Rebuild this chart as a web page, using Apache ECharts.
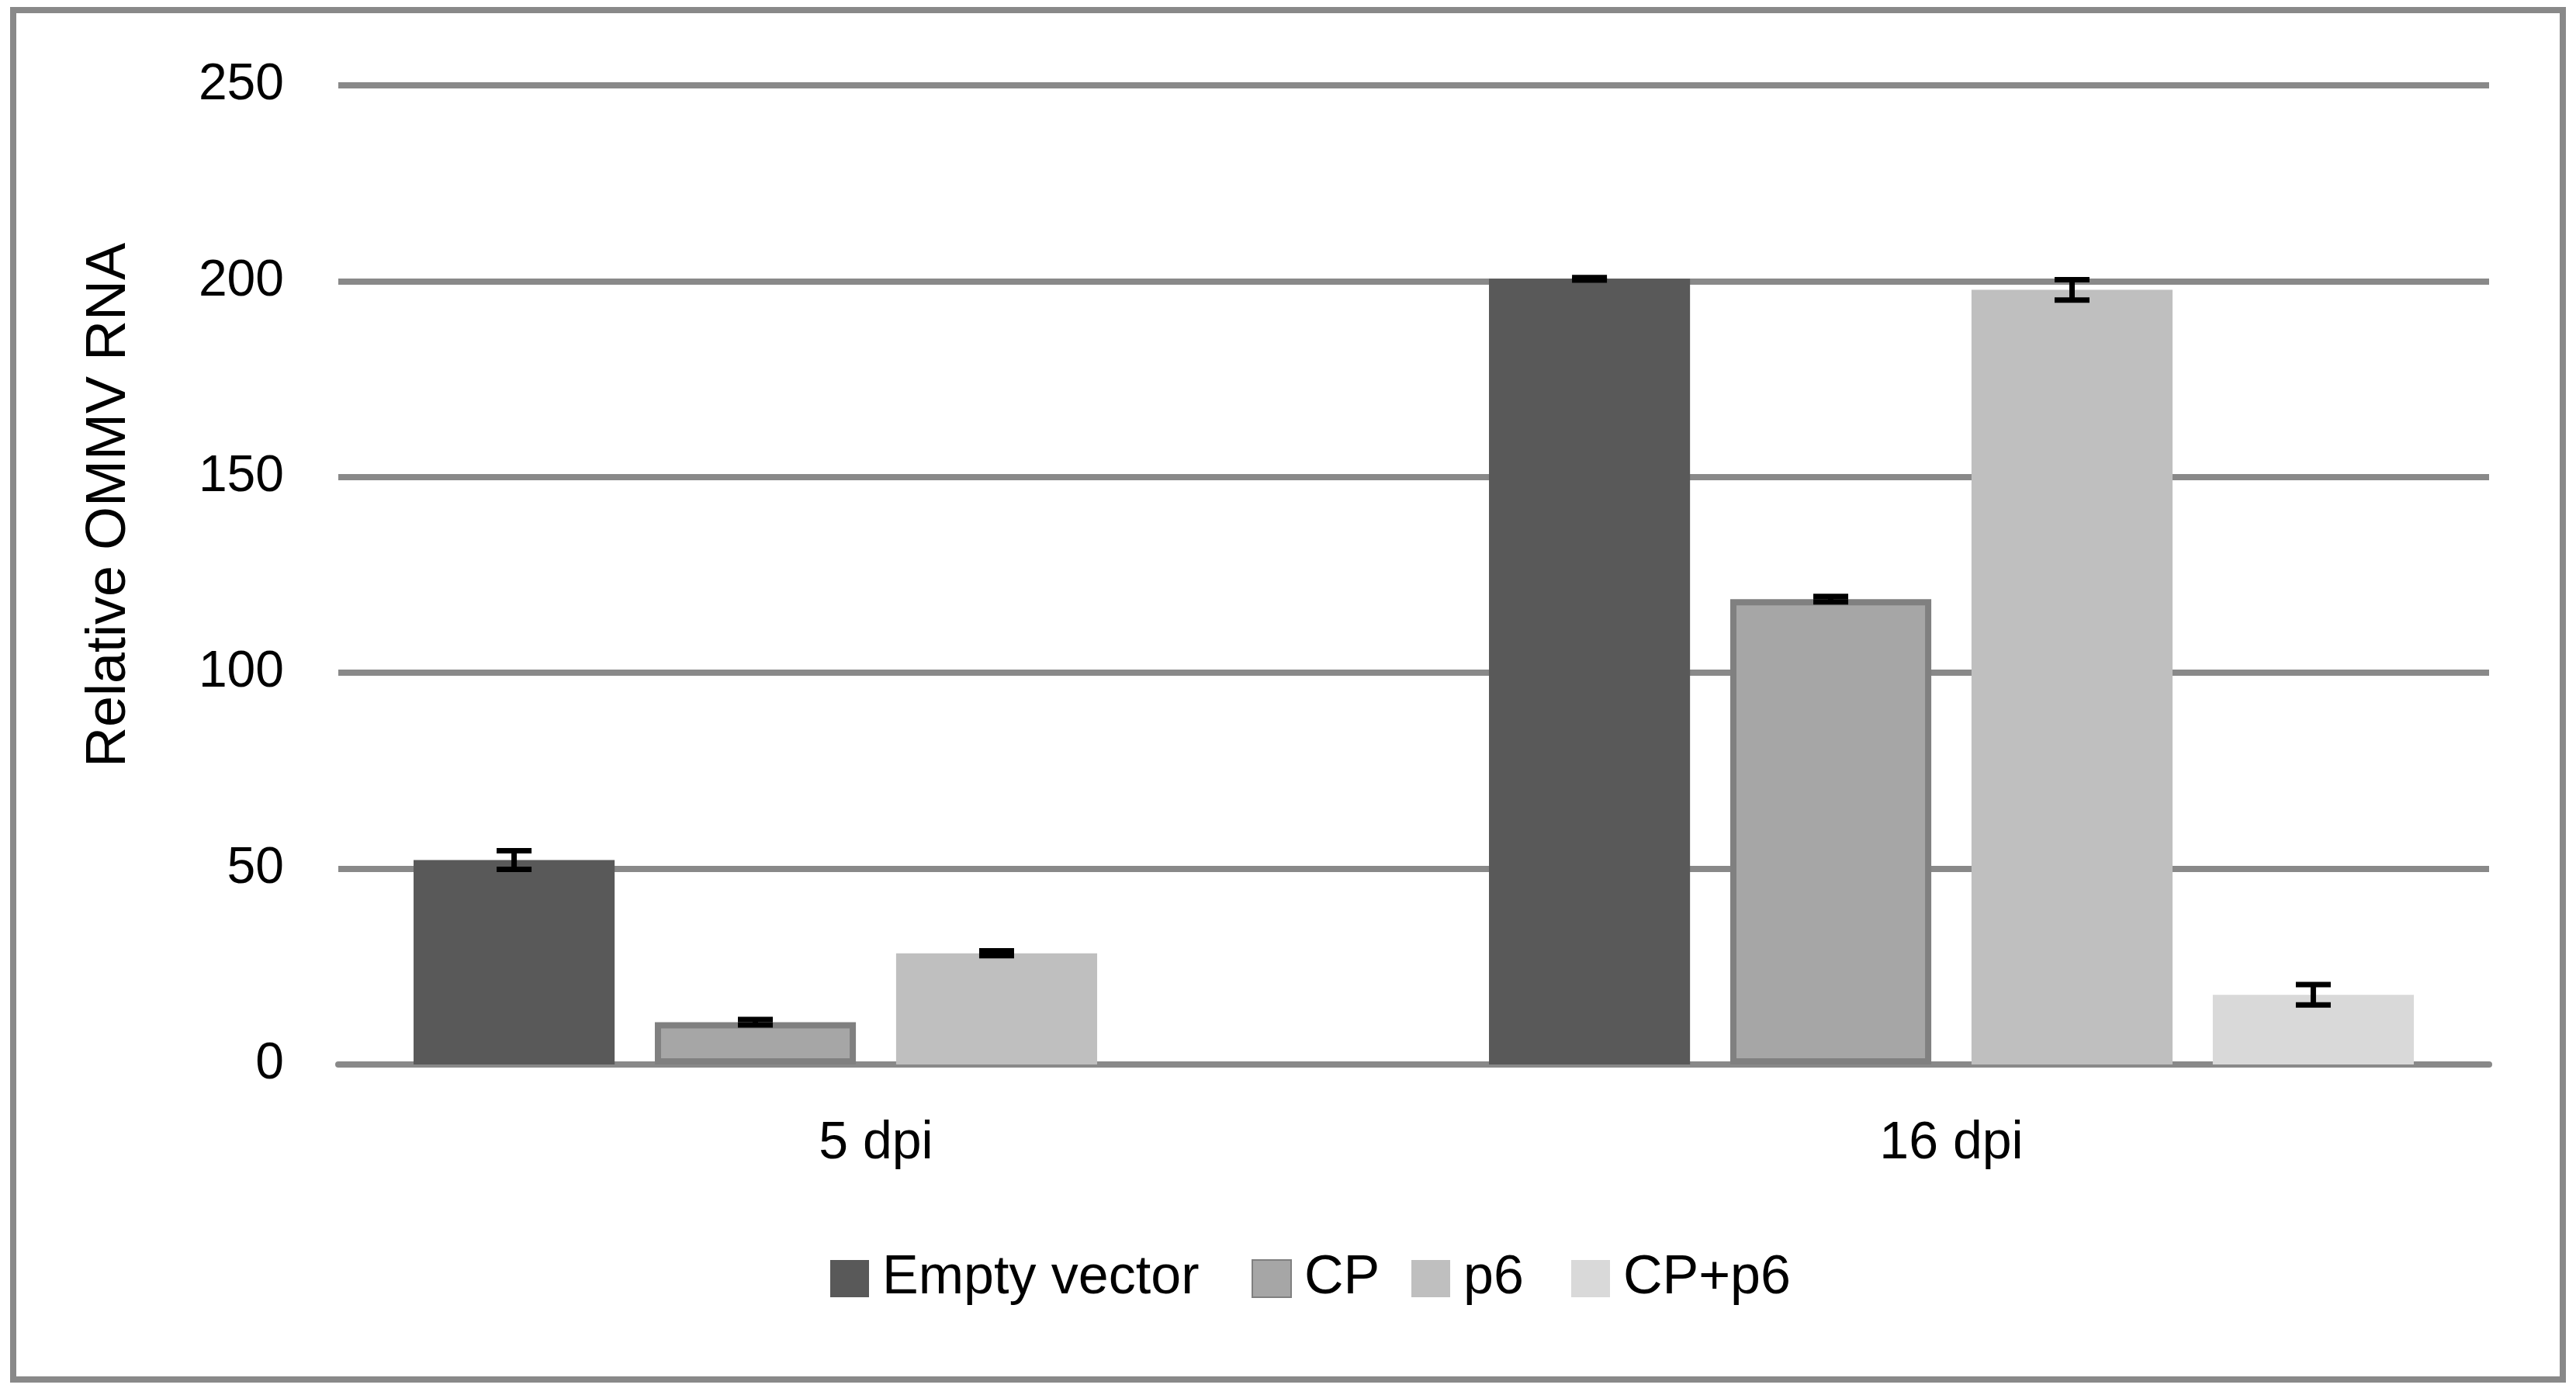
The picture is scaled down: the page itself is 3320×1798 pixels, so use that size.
<!DOCTYPE html>
<html>
<head>
<meta charset="utf-8">
<script src="https://cdn.jsdelivr.net/npm/echarts@6/dist/echarts.min.js"></script>
<style>
html,body{margin:0;padding:0;background:#fff;}
#chart{width:3320px;height:1798px;}
</style>
</head>
<body>
<div id="chart"></div>
<script>
// ---- data ----
const categories = ['5 dpi', '16 dpi'];
const seriesNames = ['Empty vector', 'CP', 'p6', 'CP+p6'];
const emptyVector = [52.2, 200.6];
const cp = [10.8, 118.8];
const p6 = [28.4, 197.8];
const cpP6 = [null, 17.8];
const emptyVectorErr = [2.4, 0.3];
const cpErr = [0.7, 0.7];
const p6Err = [0.6, 2.6];
const cpP6Err = [null, 2.6];
const yTicks = [0, 50, 100, 150, 200, 250];

const values = [emptyVector, cp, p6, cpP6];
const errors = [emptyVectorErr, cpErr, p6Err, cpP6Err];
const colors = ['#595959', '#A6A6A6', '#BFBFBF', '#D9D9D9'];
const legendLefts = [1065, 1608, 1814, 2020];

const FONT = 'Liberation Sans';
const CAT_GAP = 0.14, BAR_GAP = 0.2, NBARS = 4;

const barSeries = seriesNames.map((name, i) => ({
  name: name,
  type: 'bar',
  data: values[i],
  barGap: (BAR_GAP * 100) + '%',
  barCategoryGap: (CAT_GAP * 100) + '%',
  itemStyle: i === 1
    ? { color: colors[i], borderColor: '#808080', borderWidth: 8 }
    : { color: colors[i] },
  z: 2
}));

const errSeries = seriesNames.map((name, i) => ({
  name: name + ' err',
  type: 'custom',
  z: 5,
  silent: true,
  data: values[i].map((v, k) => v == null ? null : [k, v, errors[i][k]]).filter(d => d),
  renderItem: function (params, api) {
    const xi = api.value(0), v = api.value(1), e = api.value(2);
    const hi = api.coord([xi, v + e]);
    const lo = api.coord([xi, v - e]);
    const catW = api.size([1, 0])[0];
    const bw = catW * (1 - CAT_GAP) / (NBARS + (NBARS - 1) * BAR_GAP);
    const total = NBARS * bw + (NBARS - 1) * BAR_GAP * bw;
    const x = hi[0] - total / 2 + i * bw * (1 + BAR_GAP) + bw / 2;
    const half = 22.5;
    const st = { stroke: '#000', lineWidth: 7 };
    return {
      type: 'group',
      children: [
        { type: 'line', shape: { x1: x, y1: hi[1], x2: x, y2: lo[1] }, style: st },
        { type: 'line', shape: { x1: x - half, y1: hi[1], x2: x + half, y2: hi[1] }, style: st },
        { type: 'line', shape: { x1: x - half, y1: lo[1], x2: x + half, y2: lo[1] }, style: st }
      ]
    };
  }
}));

const legends = seriesNames.map((name, i) => ({
  data: [name],
  left: legendLefts[i],
  top: 1608,
  itemWidth: 50,
  itemHeight: 48,
  icon: 'rect',
  textStyle: { fontFamily: FONT, fontSize: 70, color: '#000', lineHeight: 70, padding: [0, 0, 0, 12] }
}));

const chart = echarts.init(document.getElementById('chart'));
chart.setOption({
  animation: false,
  backgroundColor: '#fff',
  textStyle: { fontFamily: FONT },
  graphic: [{
    type: 'rect',
    shape: { x: 17, y: 13, width: 3286, height: 1765 },
    style: { fill: 'none', stroke: '#898989', lineWidth: 8 },
    z: 0
  }],
  grid: { left: 436, right: 112, top: 110, bottom: 426 },
  legend: legends,
  xAxis: {
    type: 'category',
    data: categories,
    axisTick: { show: false },
    axisLine: { show: true, lineStyle: { color: '#898989', width: 8 } },
    axisLabel: { fontFamily: FONT, fontSize: 68, color: '#000', margin: 68 }
  },
  yAxis: {
    type: 'value',
    min: yTicks[0],
    max: yTicks[yTicks.length - 1],
    interval: 50,
    name: 'Relative OMMV RNA',
    nameLocation: 'middle',
    nameGap: 259,
    nameRotate: 90,
    nameTextStyle: { fontFamily: FONT, fontSize: 72, color: '#000', padding: [0, 0, 0, 180] },
    axisLine: { show: false },
    axisTick: { show: false },
    splitLine: { lineStyle: { color: '#898989', width: 8 } },
    axisLabel: { fontFamily: FONT, fontSize: 66, color: '#000', margin: 70 }
  },
  series: barSeries.concat(errSeries)
});
</script>
</body>
</html>
